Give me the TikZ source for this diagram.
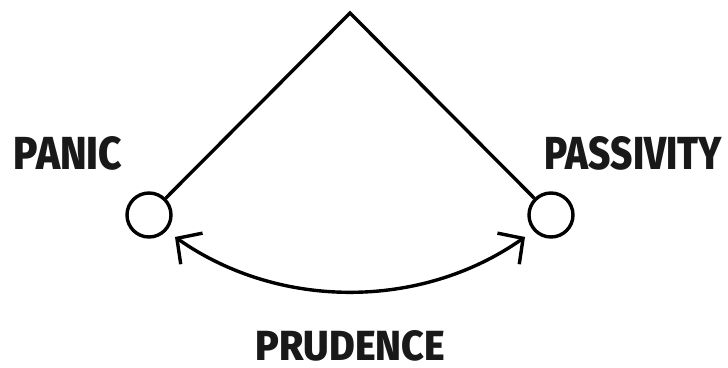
\documentclass[tikz,border=0pt]{standalone}
\usepackage{fontspec}
\usepackage{graphicx}
\setmainfont{Fira Sans}[BoldFont={* ExtraBold}]
\usetikzlibrary{arrows.meta}
\tikzset{
  conn/.style={line width=3.4pt, black},
  endcircle/.style={circle, draw, line width=3.4pt, minimum size=44pt, inner sep=0pt},
  lbl/.style={inner sep=0pt, text=black!90},
}
\newcommand{\lbltext}[3]{\resizebox{#1}{#2}{\bfseries #3}}
\begin{document}
\begin{tikzpicture}[x=1pt,y=-1pt]
\useasboundingbox (0,0) rectangle (728,367);
\coordinate (apex) at (350,13);
\node[endcircle] (L) at (149,215) {};
\node[endcircle] (R) at (551,215) {};
\draw[conn, line join=miter] (L) -- (apex) -- (R);
\coordinate (aL) at (175,237);
\coordinate (aR) at (525,237);
\draw[conn, {Straight Barb[length=18pt,width=38pt,line width=3.4pt]}-{Straight Barb[length=18pt,width=38pt,line width=3.4pt]}]
  (aL) .. controls (279,310) and (421,310) .. (aR);
\node[lbl] (panic) at (68,153.5) {\lbltext{108pt}{33pt}{PANIC}};
\node[lbl] (passivity) at (633.5,153.5) {\lbltext{177pt}{33pt}{PASSIVITY}};
\node[lbl] (prudence) at (350.5,345.5) {\lbltext{189pt}{30pt}{PRUDENCE}};
\end{tikzpicture}
\end{document}
